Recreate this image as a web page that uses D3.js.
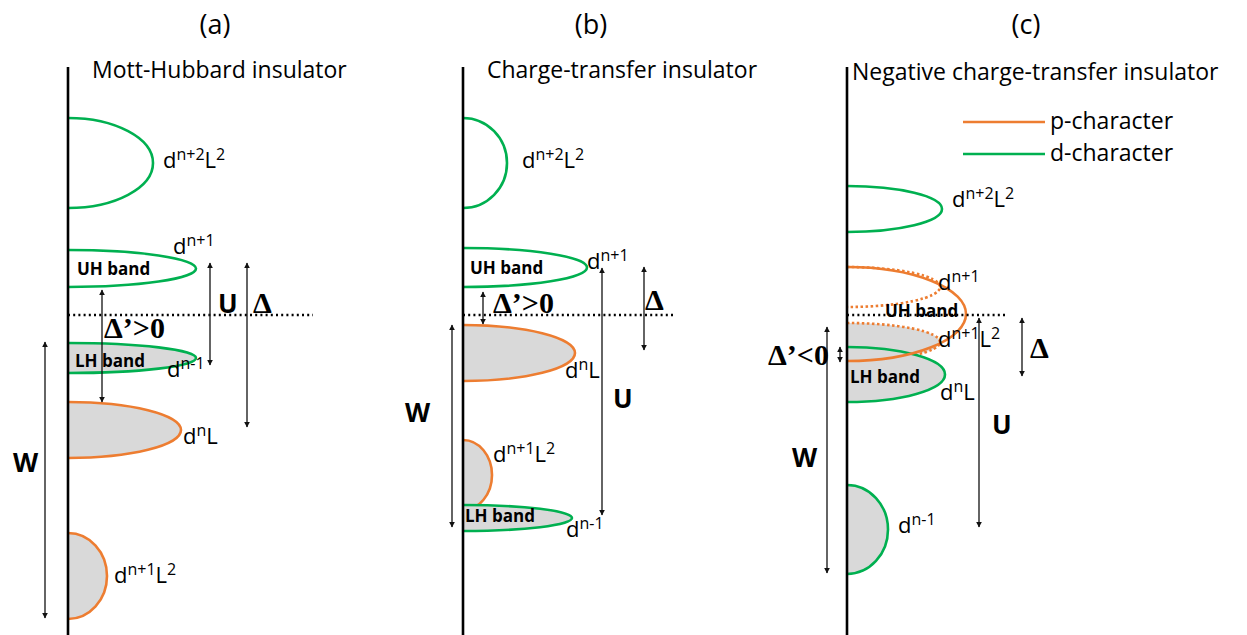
<!DOCTYPE html>
<html>
<head>
<meta charset="utf-8">
<script src="https://cdn.jsdelivr.net/npm/d3@7"></script>
<style>
  body { margin: 0; background: #fff; }
  svg { display: block; }
</style>
</head>
<body>
<svg id="chart" width="1247" height="635"></svg>
<script>
const PANELS = ['a', 'b', 'c']
const PANEL_TITLES = ['(a)', '(b)', '(c)']
const PANEL_SUBTITLES = ['Mott-Hubbard insulator', 'Charge-transfer insulator', 'Negative charge-transfer insulator']

// energy in arbitrary units (Fermi level = 0), dos = half-width of the band lobe
const BANDS_A = [
  {top: 19.7, bottom: 10.7, dos: 8.5, character: 'd', occupied: false},
  {top: 6.5, bottom: 2.8, dos: 12.8, character: 'd', occupied: false},
  {top: -2.8, bottom: -5.8, dos: 12.8, character: 'd', occupied: true},
  {top: -8.7, bottom: -14.3, dos: 11.3, character: 'p', occupied: true},
  {top: -21.8, bottom: -30.4, dos: 3.9, character: 'p', occupied: true},
]
const BANDS_B = [
  {top: 19.7, bottom: 10.7, dos: 4.4, character: 'd', occupied: false},
  {top: 6.7, bottom: 2.8, dos: 12.4, character: 'd', occupied: false},
  {top: -1.0, bottom: -6.6, dos: 11.2, character: 'p', occupied: true},
  {top: -12.5, bottom: -19.5, dos: 2.9, character: 'p', occupied: true},
  {top: -19.0, bottom: -21.6, dos: 10.9, character: 'd', occupied: true},
]
const BANDS_C = [
  {top: 12.9, bottom: 8.3, dos: 9.5, character: 'd', occupied: false},
  {top: -0.8, bottom: -4.6, dos: 9.3, character: 'p', occupied: true, component: true},
  {top: -3.2, bottom: -8.7, dos: 9.8, character: 'd', occupied: true},
  {top: -17.0, bottom: -25.9, dos: 4.1, character: 'd', occupied: true},
  {top: 4.8, bottom: -4.6, dos: 11.9, character: 'p', occupied: false},
  {top: 4.8, bottom: 0.8, dos: 9.3, character: 'p', occupied: false, component: true},
]

// energy gaps: at = dos position, from/to = energies
const GAPS_A = [
  {at: 3.4, from: 2.5, to: -8.7},
  {at: 14.2, from: 5.2, to: -5.0},
  {at: 17.9, from: 5.2, to: -11.2},
  {at: -2.3, from: -2.7, to: -30.3},
]
const GAPS_B = [
  {at: 2.0, from: 2.3, to: -0.9},
  {at: 13.9, from: 4.7, to: -20.0},
  {at: 18.1, from: 4.8, to: -3.5},
  {at: -1.1, from: -1.0, to: -21.2},
]
const GAPS_C = [
  {at: -0.7, from: -3.2, to: -4.7},
  {at: -2.0, from: -1.2, to: -25.8},
  {at: 13.2, from: -0.3, to: -21.2},
  {at: 17.5, from: -0.3, to: -6.1},
]
const FERMI_END = [24.5, 21.0, 15.8]

const LABELS_A = [
  {text: 'd^{n+2}L^{2}', kind: 'chem', x: 9.5, e: 14.7},
  {text: 'd^{n+1}', kind: 'chem', x: 10.5, e: 6.1},
  {text: 'd^{n-1}', kind: 'chem', x: 9.9, e: -6.2},
  {text: 'd^{n}L', kind: 'chem', x: 11.5, e: -12.9},
  {text: 'd^{n+1}L^{2}', kind: 'chem', x: 4.6, e: -26.8},
  {text: 'UH band', kind: 'band', x: 0.9, e: 4.0},
  {text: 'LH band', kind: 'band', x: 0.7, e: -5.2},
  {text: 'Δ’>0', kind: 'greek', x: 3.6, e: -2.3},
  {text: 'U', kind: 'sym', x: 15.0, e: 0.2},
  {text: 'Δ', kind: 'greek', x: 18.5, e: 0.2},
  {text: 'W', kind: 'sym', x: -5.5, e: -15.7},
]
const LABELS_B = [
  {text: 'd^{n+2}L^{2}', kind: 'chem', x: 5.9, e: 14.7},
  {text: 'UH band', kind: 'band', x: 0.7, e: 4.1},
  {text: 'd^{n+1}', kind: 'chem', x: 12.4, e: 4.6},
  {text: 'Δ’>0', kind: 'greek', x: 3.0, e: 0.2},
  {text: 'Δ', kind: 'greek', x: 18.2, e: 0.5},
  {text: 'd^{n}L', kind: 'chem', x: 10.2, e: -6.3},
  {text: 'U', kind: 'sym', x: 15.0, e: -9.3},
  {text: 'W', kind: 'sym', x: -5.8, e: -10.7},
  {text: 'd^{n+1}L^{2}', kind: 'chem', x: 3.0, e: -14.7},
  {text: 'LH band', kind: 'band', x: 0.2, e: -20.7},
  {text: 'd^{n-1}', kind: 'chem', x: 10.3, e: -22.2},
]
const LABELS_C = [
  {text: 'd^{n+2}L^{2}', kind: 'chem', x: 10.5, e: 10.8},
  {text: 'd^{n+1}', kind: 'chem', x: 9.1, e: 2.5},
  {text: 'UH band', kind: 'band', x: 3.8, e: -0.2},
  {text: 'd^{n+1}L^{2}', kind: 'chem', x: 9.1, e: -3.2},
  {text: 'LH band', kind: 'band', x: 0.3, e: -6.8},
  {text: 'd^{n}L', kind: 'chem', x: 9.3, e: -8.5},
  {text: 'Δ’<0', kind: 'greek', x: -7.9, e: -5.0},
  {text: 'Δ', kind: 'greek', x: 18.3, e: -4.3},
  {text: 'U', kind: 'sym', x: 14.5, e: -11.9},
  {text: 'W', kind: 'sym', x: -5.5, e: -15.2},
  {text: 'd^{n-1}', kind: 'chem', x: 5.1, e: -21.8},
]

const LEGEND = ['p-character', 'd-character']

const BANDS = [BANDS_A, BANDS_B, BANDS_C]
const GAPS = [GAPS_A, GAPS_B, GAPS_C]
const LABELS = [LABELS_A, LABELS_B, LABELS_C]

const COLORS = {p: '#ED7D31', d: '#00B050'}
const FILL = '#d9d9d9'
const SANS = '"Open Sans", sans-serif'
const SERIF = '"Liberation Serif", "Times New Roman", serif'

const svg = d3.select('#chart')
const y = d3.scaleLinear().domain([-32, 25]).range([635, 65])
const dos = d3.scaleLinear().domain([0, 10]).range([0, 100])
const axisX = d3.scaleOrdinal().domain(PANELS).range([68, 463, 847])
const titleX = d3.scaleOrdinal().domain(PANELS).range([215, 591, 1026])

const defs = svg.append('defs')
defs.append('marker')
  .attr('id', 'head')
  .attr('viewBox', '0 0 10 10')
  .attr('refX', 9).attr('refY', 5)
  .attr('markerWidth', 6).attr('markerHeight', 6)
  .attr('markerUnits', 'userSpaceOnUse')
  .attr('orient', 'auto-start-reverse')
  .append('path').attr('d', 'M0,0L10,5L0,10Z').attr('fill', '#111')

function lobe(cx, b){
  const t = y(b.top), bt = y(b.bottom)
  return `M${cx},${t}A${dos(b.dos)},${(bt - t) / 2} 0 0 1 ${cx},${bt}`
}

function addChem(text, str){
  const re = /\^\{([^}]*)\}|([^^]+)/g
  let m, raised = false
  while((m = re.exec(str))){
    if(m[1] !== undefined){
      text.append('tspan').attr('font-size', 16).attr('dy', raised ? 0 : -8).text(m[1])
      raised = true
    } else {
      text.append('tspan').attr('dy', raised ? 8 : 0).text(m[2])
      raised = false
    }
  }
}

PANELS.forEach((p, i) => {
  const ax = axisX(p)
  const g = svg.append('g').attr('class', 'panel panel-' + p)

  g.append('text')
    .attr('x', titleX(p)).attr('y', 34)
    .attr('text-anchor', 'middle')
    .attr('font-family', SANS).attr('font-size', 27)
    .text(PANEL_TITLES[i])
  g.append('text')
    .attr('x', ax + (i == 2 ? 5 : 24)).attr('y', i == 2 ? 80 : 78)
    .attr('font-family', SANS).attr('font-size', 23)
    .text(PANEL_SUBTITLES[i])

  // bands
  g.append('g').selectAll('path').data(BANDS[i])
    .enter().append('path')
      .attr('d', d => lobe(ax, d))
      .attr('fill', d => d.occupied ? FILL : 'none')
      .attr('stroke', d => COLORS[d.character])
      .attr('stroke-width', 2.6)
      .attr('stroke-dasharray', d => d.component ? '2.5,2.5' : null)

  // energy axis
  g.append('line')
    .attr('x1', ax).attr('x2', ax)
    .attr('y1', y(25) + 2).attr('y2', 635)
    .attr('stroke', '#000').attr('stroke-width', 2.6)

  // Fermi level
  g.append('line')
    .attr('x1', ax).attr('x2', ax + dos(FERMI_END[i]))
    .attr('y1', y(0)).attr('y2', y(0))
    .attr('stroke', '#000').attr('stroke-width', 2.6)
    .attr('stroke-dasharray', '2,3.2')

  // gaps
  g.append('g').selectAll('line').data(GAPS[i])
    .enter().append('line')
      .attr('x1', d => ax + dos(d.at)).attr('x2', d => ax + dos(d.at))
      .attr('y1', d => y(d.from)).attr('y2', d => y(d.to))
      .attr('stroke', '#111').attr('stroke-width', 1.3)
      .attr('marker-start', 'url(#head)').attr('marker-end', 'url(#head)')

  // labels
  g.append('g').selectAll('text').data(LABELS[i])
    .enter().append('text')
      .attr('x', d => ax + dos(d.x)).attr('y', d => y(d.e))
      .attr('font-family', d => d.kind == 'greek' ? SERIF : SANS)
      .attr('font-weight', d => d.kind == 'chem' ? 'normal' : 'bold')
      .attr('font-size', d => ({chem: 22, band: 17, greek: 30, sym: 26})[d.kind])
      .each(function(d){
        if(d.kind == 'chem') addChem(d3.select(this), d.text)
        else d3.select(this).text(d.text)
      })
})

// legend in panel (c)
const lx = axisX('c')
const legend = svg.append('g').selectAll('g').data(LEGEND)
  .enter().append('g')
legend.append('line')
  .attr('x1', lx + dos(11.6)).attr('x2', lx + dos(19.8))
  .attr('y1', (d, i) => y(19.3 - i * 3.2)).attr('y2', (d, i) => y(19.3 - i * 3.2))
  .attr('stroke', (d, i) => COLORS[i == 0 ? 'p' : 'd']).attr('stroke-width', 2.6)
legend.append('text')
  .attr('x', lx + dos(20.3)).attr('y', (d, i) => y(19.3 - i * 3.2) + 7)
  .attr('font-family', SANS).attr('font-size', 23)
  .text(d => d)
</script>
</body>
</html>
